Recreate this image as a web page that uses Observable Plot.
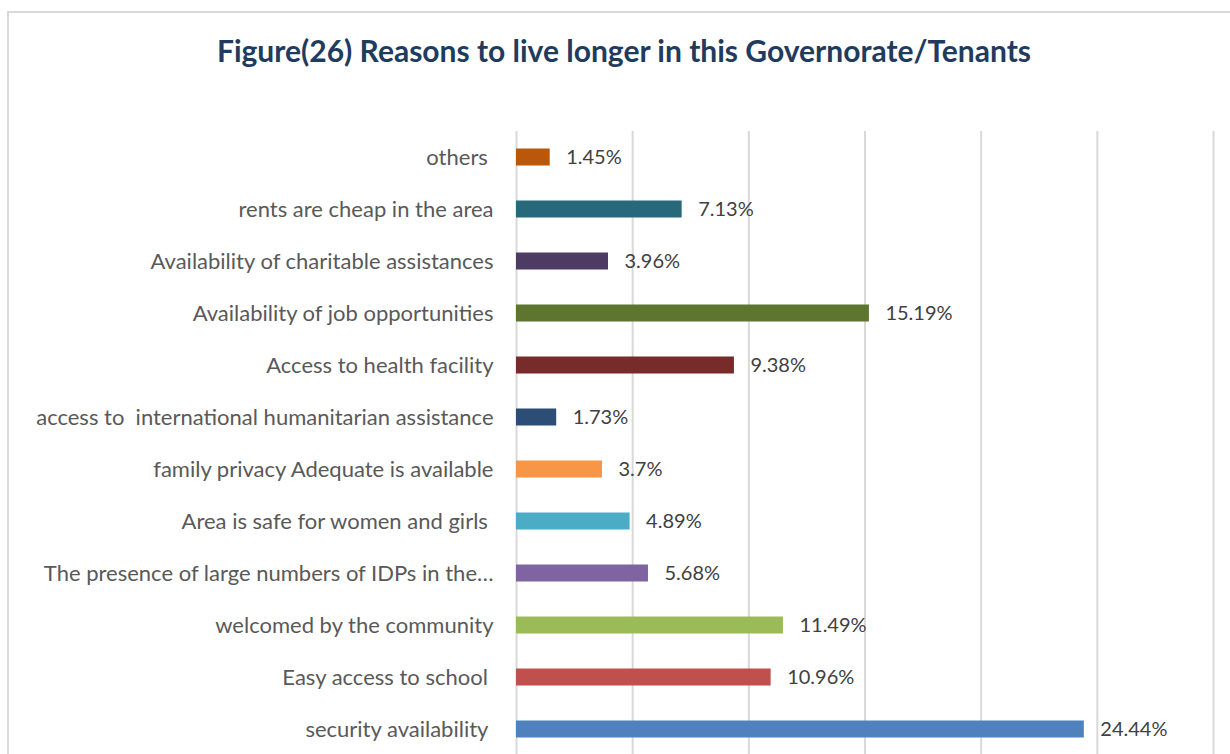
<!DOCTYPE html>
<html>
<head>
<meta charset="utf-8">
<script src="https://cdn.jsdelivr.net/npm/d3@7"></script>
<script src="https://cdn.jsdelivr.net/npm/@observablehq/plot@0.6"></script>
<style>
  body { margin:0; width:1230px; height:754px; overflow:hidden; position:relative; background:#fff; font-family: Lato, "Open Sans", sans-serif; }
  #frame { position:absolute; left:7px; top:11px; width:1300px; height:800px; border:2px solid #d9d9d9; box-sizing:border-box; }
  #title { position:absolute; left:0; width:1248px; top:35px; line-height:30px; text-align:center; font-weight:700; font-size:30px; color:#1F3B5E; white-space:nowrap; }
  #chart { position:absolute; left:0; top:100px; }
  #chart svg text { white-space: pre; }
</style>
</head>
<body>
<div id="frame"></div>
<div id="title">Figure(26) Reasons to live longer in this Governorate/Tenants</div>
<div id="chart"></div>
<script>
const categories = [
  "others ",
  "rents are cheap in the area",
  "Availability of charitable assistances",
  "Availability of job opportunities",
  "Access to health facility",
  "access to  international humanitarian assistance",
  "family privacy Adequate is available",
  "Area is safe for women and girls ",
  "The presence of large numbers of IDPs in the\u2026",
  "welcomed by the community",
  "Easy access to school ",
  "security availability "
];
const values = [1.45, 7.13, 3.96, 15.19, 9.38, 1.73, 3.7, 4.89, 5.68, 11.49, 10.96, 24.44];
const colors = ["#B9580B", "#27697A", "#4E3B63", "#5E7530", "#772B2A", "#2C4D75",
                "#F79646", "#4BACC6", "#8064A2", "#9BBB59", "#C0504D", "#4F81BD"];
const xTicks = [0, 5, 10, 15, 20, 25, 30];

const data = categories.map((c, i) => ({cat: c, value: values[i], color: colors[i]}));

const chart = Plot.plot({
  width: 1230,
  height: 655,
  marginTop: 31,
  marginBottom: 0,
  marginLeft: 516,
  marginRight: 17,
  style: {fontFamily: "Lato, 'Open Sans', sans-serif", color: "#595959", background: "transparent"},
  x: {domain: [0, 30], axis: null},
  y: {domain: categories, padding: 0, axis: null},
  marks: [
    Plot.ruleX(xTicks, {stroke: "#d9d9d9", strokeWidth: 2}),
    Plot.barX(data, {y: "cat", x: "value", fill: "color", insetTop: 17.5, insetBottom: 17.5}),
    Plot.text(data, {y: "cat", x: "value", text: d => `${d.value}%`, textAnchor: "start", dx: 16, fontSize: 20, fill: "#404040"}),
    Plot.axisY({tickSize: 0, tickPadding: 23, fontSize: 22, fill: "#595959", label: null})
  ]
});
document.getElementById("chart").appendChild(chart);
</script>
</body>
</html>
